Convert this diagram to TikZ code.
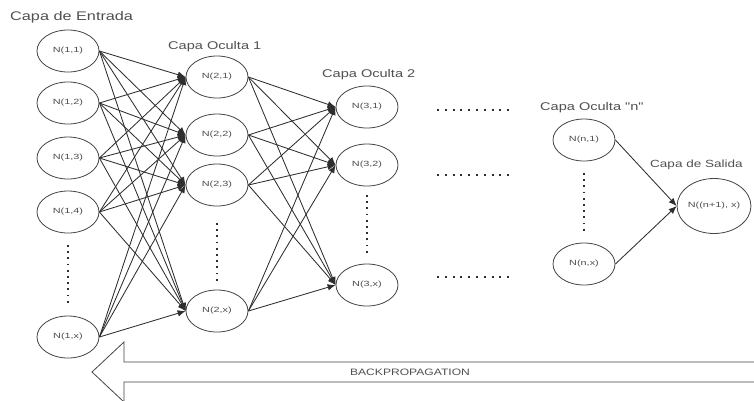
\documentclass[tikz,border=0pt]{standalone}
\usepackage{fontspec}
\setmainfont{Liberation Sans}
\newfontfamily\lblfont[FakeStretch=1.3]{Liberation Sans}
\newfontfamily\nfont[FakeStretch=1.45]{Liberation Sans}
\usetikzlibrary{shapes.geometric,arrows.meta}
\definecolor{txt}{HTML}{505050}
\definecolor{ln}{HTML}{2E2E2E}
\definecolor{bd}{HTML}{454545}
\tikzset{
  neuron/.style={ellipse, draw=bd, line width=0.8pt, minimum width=62pt, minimum height=42pt, inner sep=0pt, fill=white,
    font=\nfont\fontsize{7.5}{8}\selectfont, text=txt},
  outneuron/.style={neuron, minimum width=70pt, minimum height=55pt},
  layerlbl/.style={anchor=west, text=txt, inner sep=0pt},
  conn/.style={draw=ln, line width=0.85pt, -{Latex[length=8pt,width=6.5pt]}},
  vdots/.style={draw=ln, line width=2pt, dash pattern=on 1.8pt off 4.4pt},
  hdots/.style={draw=ln, line width=2pt, dash pattern=on 2pt off 5.8pt},
  bparrow/.style={draw=bd, line width=0.8pt, fill=white}
}
\begin{document}
\begin{tikzpicture}[x=1pt,y=1pt]
\useasboundingbox (0,0) rectangle (754,-400);
\begin{scope}
\clip (0,0) rectangle (754,-400);
% backpropagation arrow
\draw[bparrow] (760,-362) -- (124,-362) -- (124,-342) -- (92,-372) -- (124,-402) -- (124,-382) -- (760,-382);
\node[text=txt, font=\lblfont\fontsize{9.3}{10}\selectfont] (bp) at (410,-372) {BACKPROPAGATION};

% labels
\node[layerlbl, font=\lblfont\fontsize{12.5}{14}\selectfont] (l1) at (10,-17) {Capa de Entrada};
\node[layerlbl, font=\lblfont\fontsize{11.2}{13}\selectfont] (l2) at (168,-47) {Capa Oculta 1};
\node[layerlbl, font=\lblfont\fontsize{11.2}{13}\selectfont] (l3) at (322,-75) {Capa Oculta 2};
\node[layerlbl, font=\lblfont\fontsize{11.2}{13}\selectfont] (l4) at (540,-108) {Capa Oculta "n"};
\node[layerlbl, font=\lblfont\fontsize{10.4}{12}\selectfont] (l5) at (650,-165) {Capa de Salida};

% layer 1
\node[neuron] (a1) at (68,-51) {N(1,1)};
\node[neuron] (a2) at (68,-103) {N(1,2)};
\node[neuron] (a3) at (68,-158) {N(1,3)};
\node[neuron] (a4) at (68,-212) {N(1,4)};
\node[neuron] (a5) at (68,-337) {N(1,x)};
% layer 2
\node[neuron] (b1) at (217,-77) {N(2,1)};
\node[neuron] (b2) at (217,-135) {N(2,2)};
\node[neuron] (b3) at (217,-185) {N(2,3)};
\node[neuron] (b4) at (217,-311) {N(2,x)};
% layer 3
\node[neuron] (c1) at (367,-107) {N(3,1)};
\node[neuron] (c2) at (367,-165) {N(3,2)};
\node[neuron] (c3) at (367,-285) {N(3,x)};
% layer n
\node[neuron] (n1) at (584,-140) {N(n,1)};
\node[neuron] (n2) at (584,-264) {N(n,x)};
% output
\node[outneuron] (o) at (714,-206) {N((n+1), x)};

% connections
\foreach \s in {a1,a2,a3,a4,a5}
  \foreach \t in {b1,b2,b3,b4}
    \draw[conn] (\s.east) -- (\t.west);
\foreach \s in {b1,b2,b3,b4}
  \foreach \t in {c1,c2,c3}
    \draw[conn] (\s.east) -- (\t.west);
\draw[conn] (n1.east) -- (o.west);
\draw[conn] (n2.east) -- (o.west);

% dots
\draw[vdots] (68,-245) -- (68,-305);
\draw[vdots] (217,-223) -- (217,-282);
\draw[vdots] (367,-195) -- (367,-255);
\draw[vdots] (584,-173) -- (584,-233);
\draw[hdots] (437,-110) -- (514,-110);
\draw[hdots] (437,-175) -- (514,-175);
\draw[hdots] (437,-277) -- (514,-277);
\end{scope}
\end{tikzpicture}
\end{document}
